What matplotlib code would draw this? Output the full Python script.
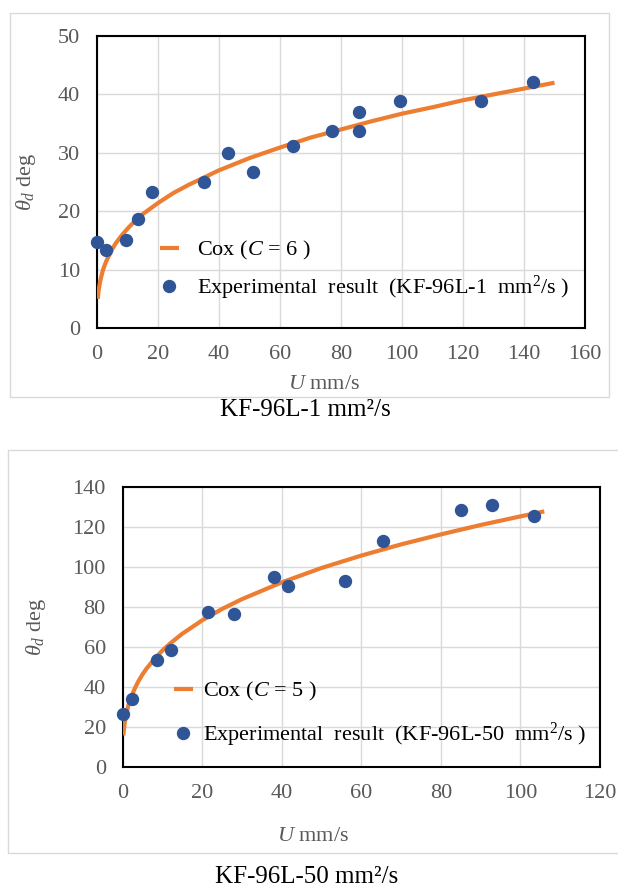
import matplotlib.pyplot as plt
from matplotlib.patches import Rectangle

plt.rcParams['font.family'] = ['Liberation Serif', 'DejaVu Serif']
plt.rcParams['mathtext.fontset'] = 'custom'
plt.rcParams['mathtext.rm'] = 'Liberation Serif'
plt.rcParams['mathtext.it'] = 'Liberation Serif:italic'

# KF-96L-1 mm2/s : experimental points
u1 = [0, 2.9, 9.6, 13.4, 18.0, 35.0, 42.8, 51.0, 64.4, 77.0, 85.9, 85.9, 99.3, 125.8, 143.1]
th1 = [14.7, 13.3, 15.0, 18.6, 23.3, 25.0, 29.9, 26.7, 31.1, 33.8, 37.0, 33.8, 38.8, 38.8, 42.1]
# Cox curve (C = 6)
cox_u1 = [0.25, 0.5, 1, 1.5, 2, 3, 4, 5, 6, 8, 10, 12, 15, 20, 25, 30, 40, 50,
          60, 70, 80, 90, 100, 110, 120, 130, 140, 150]
cox_th1 = [5.0, 6.3, 7.9, 9.0, 10.0, 11.4, 12.5, 13.5, 14.4, 15.8, 17.0, 18.1, 19.5, 21.4,
           23.1, 24.5, 27.0, 29.1, 30.9, 32.6, 34.0, 35.4, 36.7, 37.8, 39.0, 40.0, 41.0, 42.0]

# KF-96L-50 mm2/s : experimental points
u2 = [0, 2.5, 8.7, 12.1, 21.6, 28.1, 38.0, 41.5, 55.8, 65.5, 85.0, 92.9, 103.4]
th2 = [26.5, 34.1, 53.7, 58.3, 77.4, 76.7, 94.9, 90.3, 92.9, 113.0, 128.7, 131.2, 125.6]
# Cox curve (C = 5)
cox_u2 = [0.2, 0.5, 1, 1.5, 2, 3, 4, 5, 6, 8, 10, 12, 15, 20, 25, 30, 40, 50,
          60, 70, 80, 90, 100, 106]
cox_th2 = [15.8, 21.4, 27.0, 30.9, 34.0, 38.9, 42.9, 46.2, 49.1, 54.0, 58.2, 61.8, 66.6, 73.3,
           79.0, 83.9, 92.3, 99.5, 105.7, 111.3, 116.3, 121.0, 125.3, 127.8]

W, H = 618, 888
fig = plt.figure(figsize=(W / 100, H / 100), dpi=100)

orange = '#ED7D31'
blue = '#2F5597'
grey = '#595959'


def panel(rect, u, th, cu, cth, xmax, ymax, cval, name, leg_xy, hpad, lspace, ylab_x, xlab_xy):
    ax = fig.add_axes(rect)
    ax.plot(cu, cth, color=orange, lw=3, label=r'Cox ($C$ = %d )' % cval, zorder=3,
            solid_capstyle='butt')
    ax.plot(u, th, 'o', color=blue, ms=8.6, label=r'Experimental  result  (%s  mm$^2$/s )' % name,
            zorder=4, clip_on=False)
    ax.set_xlim(0, xmax)
    ax.set_ylim(0, ymax)
    ax.set_xticks(range(0, xmax + 1, 20))
    ax.set_yticks(range(0, ymax + 1, 20 if ymax > 50 else 10))
    ax.grid(True, color='#D9D9D9', lw=1)
    ax.set_axisbelow(True)
    for s in ax.spines.values():
        s.set_color('black')
        s.set_linewidth(1.5)
    ax.tick_params(length=0, pad=12, labelsize=16, labelcolor=grey)
    ax.set_ylabel(r'$\theta_d$ deg', fontsize=16, color=grey)
    ax.yaxis.set_label_coords(ylab_x, 0.5)
    ax.set_xlabel(r'$U$ mm/s', fontsize=16, color=grey)
    ax.xaxis.set_label_coords(*xlab_xy)
    ax.legend(loc='upper left', bbox_to_anchor=(leg_xy[0] / W, 1 - leg_xy[1] / H),
              bbox_transform=fig.transFigure, frameon=False, fontsize=16,
              borderpad=0, borderaxespad=0, handlelength=0.85, handletextpad=hpad,
              labelspacing=lspace)
    return ax


panel([97 / W, 1 - 328 / H, 488 / W, 292 / H], u1, th1, cox_u1, cox_th1, 160, 50, 6,
      'KF-96L-1', (160, 239), 0.8, 0.55, -0.12, (0.465, -0.16))
panel([122.5 / W, 1 - 767 / H, 477.5 / W, 280 / H], u2, th2, cox_u2, cox_th2, 120, 140, 5,
      'KF-96L-50', (174, 680), 0.45, 0.8, -0.155, (0.4, -0.215))

# chart borders
fig.patches.append(Rectangle((10 / W, 1 - 397 / H), 599 / W, 384 / H, transform=fig.transFigure,
                             fill=False, ec='#D9D9D9', lw=1))
fig.patches.append(Rectangle((8 / W, 1 - 853 / H), 612 / W, 403 / H, transform=fig.transFigure,
                             fill=False, ec='#D9D9D9', lw=1))

fig.text(305 / W, 1 - 410 / H, 'KF-96L-1 mm²/s', ha='center', va='center', fontsize=18)
fig.text(307 / W, 1 - 877 / H, 'KF-96L-50 mm²/s', ha='center', va='center', fontsize=18)

fig.savefig('out.png', dpi=100)
